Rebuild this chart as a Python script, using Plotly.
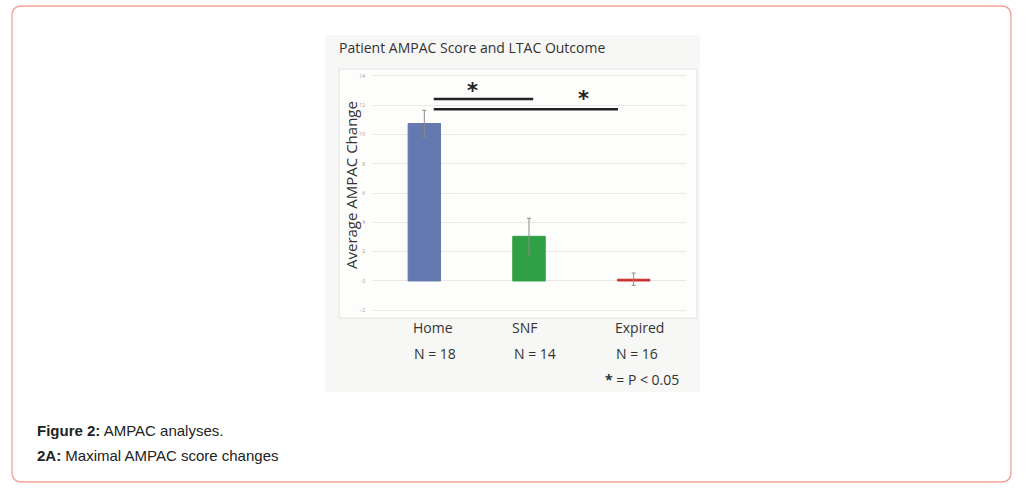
import plotly.graph_objects as go

# ---- data ----
categories = ["Home", "SNF", "Expired"]
mean_change = [10.75, 3.05, 0.12]
error_sd = [0.9, 1.23, 0.42]
bar_colors = ["#6479AF", "#2FA045", "#C9302C"]
n_labels = ["N = 18", "N = 14", "N = 16"]
y_ticks = [-2, 0, 2, 4, 6, 8, 10, 12, 14]

W, H = 1032, 492

def px(x):
    return x / W

def py(y):
    return 1 - y / H

fig = go.Figure()
fig.add_trace(go.Bar(
    x=[0, 1, 2],
    y=mean_change,
    width=0.31,
    marker=dict(color=bar_colors, line=dict(color=bar_colors, width=1)),
    error_y=dict(type="data", array=error_sd, color="#8a8a8a", thickness=1, width=2),
    showlegend=False,
    hoverinfo="skip",
))

shapes = []
# card border
shapes.append(dict(type="path", xref="paper", yref="paper",
    path=("M {a},{t} L {b},{t} Q {r},{t} {r},{t2} L {r},{b2} Q {r},{bt} {b},{bt} "
          "L {a},{bt} Q {l},{bt} {l},{b2} L {l},{t2} Q {l},{t} {a},{t} Z").format(
        l=px(12), r=px(1011), a=px(22), b=px(1001), t=py(6), t2=py(16), bt=py(482), b2=py(472)),
    line=dict(color="#F6A09B", width=1.3), fillcolor="rgba(0,0,0,0)", layer="below"))
# image panel
shapes.append(dict(type="rect", xref="paper", yref="paper",
    x0=px(325), x1=px(700), y0=py(392), y1=py(35),
    line=dict(width=0), fillcolor="#f7f7f5", layer="below"))
# plot box
shapes.append(dict(type="rect", xref="paper", yref="paper",
    x0=px(339), x1=px(697), y0=py(318), y1=py(69),
    line=dict(color="#e2e2e2", width=1), fillcolor="#fdfdfc", layer="below"))
# significance bars
shapes.append(dict(type="line", xref="x", yref="y", x0=0.09, x1=1.04, y0=12.42, y1=12.42,
                   line=dict(color="#222222", width=2.5)))
shapes.append(dict(type="line", xref="x", yref="y", x0=0.09, x1=1.85, y0=11.72, y1=11.72,
                   line=dict(color="#222222", width=2.5)))

C = dict(xanchor="center", yanchor="middle", showarrow=False)
annotations = []
annotations.append(dict(x=0.46, y=12.95, xref="x", yref="y", text="<b>*</b>", **C,
                        font=dict(size=21, color="#222222", family="DejaVu Sans")))
annotations.append(dict(x=1.52, y=12.45, xref="x", yref="y", text="<b>*</b>", **C,
                        font=dict(size=21, color="#222222", family="DejaVu Sans")))
# title
annotations.append(dict(x=px(472), y=py(47), xref="paper", yref="paper",
                        text="Patient AMPAC Score and LTAC Outcome", **C,
                        font=dict(size=14, color="#333333", family="Open Sans")))
# y title
annotations.append(dict(x=px(351), y=py(185), xref="paper", yref="paper",
                        text="Average AMPAC Change", textangle=-90, **C,
                        font=dict(size=15, color="#333333", family="Open Sans")))
# category labels and N
cat_dx = [0.08, -0.04, 0.06]
for i, c in enumerate(categories):
    annotations.append(dict(x=i + cat_dx[i], y=py(327), xref="x", yref="paper", text=c, **C,
                            font=dict(size=14, color="#333333", family="Open Sans")))
n_dx = [0.1, 0.06, 0.03]
for i, n in enumerate(n_labels):
    annotations.append(dict(x=i + n_dx[i], y=py(353.5), xref="x", yref="paper", text=n, **C,
                            font=dict(size=14, color="#333333", family="Open Sans")))
annotations.append(dict(x=px(641.5), y=py(379), xref="paper", yref="paper",
                        text="<b>*</b> = P < 0.05", **C,
                        font=dict(size=14, color="#333333", family="Open Sans")))
# caption
annotations.append(dict(x=px(35), y=py(430), xref="paper", yref="paper", xanchor="left",
                        yanchor="middle", showarrow=False,
                        text="<b>Figure 2:</b> AMPAC analyses.",
                        font=dict(size=15, color="#222222", family="Liberation Sans")))
annotations.append(dict(x=px(35), y=py(455), xref="paper", yref="paper", xanchor="left",
                        yanchor="middle", showarrow=False,
                        text="<b>2A:</b> Maximal AMPAC score changes",
                        font=dict(size=15, color="#222222", family="Liberation Sans")))

fig.update_layout(
    width=W, height=H,
    margin=dict(l=0, r=0, t=0, b=0),
    paper_bgcolor="white", plot_bgcolor="rgba(0,0,0,0)",
    shapes=shapes, annotations=annotations,
    xaxis=dict(domain=[px(372), px(686)], range=[-0.5, 2.5], showticklabels=False,
               showgrid=False, zeroline=False, showline=False, ticks="", fixedrange=True),
    yaxis=dict(domain=[py(317.6), py(68.6)], range=[-2.5, 14.5], tickvals=y_ticks,
               showgrid=True, gridcolor="#ece6e6", gridwidth=1, zeroline=False,
               showline=False, ticks="", ticklabelstandoff=6,
               tickfont=dict(size=5, color="#9a9a9a", family="Open Sans")),
    bargap=0.5,
)

fig.write_html("out.html", config={"displayModeBar": False},
               post_script="document.body.style.margin='0';document.body.style.overflow='hidden';")
